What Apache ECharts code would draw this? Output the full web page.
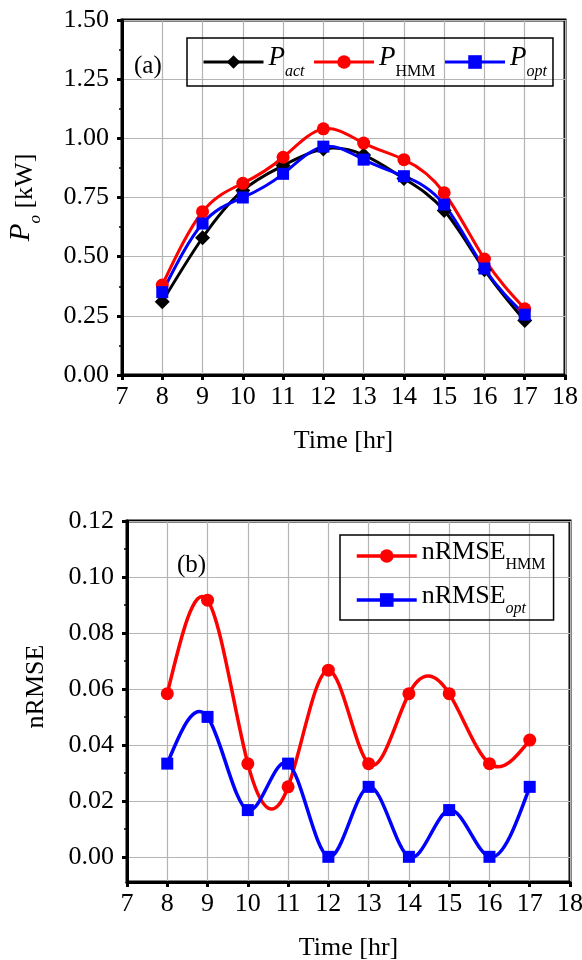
<!DOCTYPE html>
<html>
<head>
<meta charset="utf-8">
<script src="https://cdn.jsdelivr.net/npm/echarts@6/dist/echarts.min.js"></script>
<style>
html,body{margin:0;padding:0;background:#fff;}
#c{width:582px;height:960px;}
</style>
</head>
<body>
<div id="c"></div>
<script>
// ---- data ----
const hours = [8, 9, 10, 11, 12, 13, 14, 15, 16, 17];
const pAct = [0.31, 0.58, 0.78, 0.885, 0.955, 0.93, 0.83, 0.695, 0.445, 0.23];
const pHMM = [0.38, 0.69, 0.81, 0.92, 1.04, 0.98, 0.91, 0.77, 0.49, 0.28];
const pOpt = [0.35, 0.64, 0.75, 0.85, 0.965, 0.91, 0.84, 0.72, 0.45, 0.255];
const nrmseHMM = [0.0583, 0.0917, 0.0333, 0.025, 0.0667, 0.0333, 0.0583, 0.0583, 0.0333, 0.0417];
const nrmseOpt = [0.0333, 0.05, 0.0167, 0.0333, 0, 0.025, 0, 0.0167, 0, 0.025];
const xTicks = [7, 8, 9, 10, 11, 12, 13, 14, 15, 16, 17, 18];
const yTicksTop = [0, 0.25, 0.5, 0.75, 1.0, 1.25, 1.5];
const yTicksBottom = [0, 0.02, 0.04, 0.06, 0.08, 0.10, 0.12];
const yMinorBottom = [0.01, 0.03, 0.05, 0.07, 0.09, 0.11];

const FONT = '"Liberation Serif", "Times New Roman", serif';
const pairs = (ys) => hours.map((h, i) => [h, ys[i]]);

// natural cubic spline -> bezier control points (in data space)
function splineSegments(xs, ys) {
  const n = xs.length;
  const h = [];
  for (let i = 0; i < n - 1; i++) h.push(xs[i + 1] - xs[i]);
  const M = new Array(n).fill(0);
  if (n > 2) {
    const a = [], b = [], c = [], d = [];
    for (let i = 1; i < n - 1; i++) {
      a.push(h[i - 1]); b.push(2 * (h[i - 1] + h[i])); c.push(h[i]);
      d.push(6 * ((ys[i + 1] - ys[i]) / h[i] - (ys[i] - ys[i - 1]) / h[i - 1]));
    }
    const m = b.length;
    for (let i = 1; i < m; i++) {
      const w = a[i] / b[i - 1];
      b[i] -= w * c[i - 1];
      d[i] -= w * d[i - 1];
    }
    const sol = new Array(m);
    sol[m - 1] = d[m - 1] / b[m - 1];
    for (let i = m - 2; i >= 0; i--) sol[i] = (d[i] - c[i] * sol[i + 1]) / b[i];
    for (let i = 0; i < m; i++) M[i + 1] = sol[i];
  }
  const segs = [];
  for (let i = 0; i < n - 1; i++) {
    const hi = h[i];
    const s = (ys[i + 1] - ys[i]) / hi;
    const d0 = s - hi * (2 * M[i] + M[i + 1]) / 6;
    const d1 = s + hi * (M[i] + 2 * M[i + 1]) / 6;
    segs.push([
      [xs[i], ys[i]],
      [xs[i] + hi / 3, ys[i] + d0 * hi / 3],
      [xs[i + 1] - hi / 3, ys[i + 1] - d1 * hi / 3],
      [xs[i + 1], ys[i + 1]]
    ]);
  }
  return segs;
}

function curveSeries(ys, color, width, xi, yi) {
  const segs = splineSegments(hours, ys);
  return {
    type: 'custom', xAxisIndex: xi, yAxisIndex: yi, silent: true,
    data: pairs(ys), encode: {x: 0, y: 1},
    renderItem: function (params, api) {
      const seg = segs[params.dataIndex];
      if (!seg) return {type: 'group', children: []};
      const p = seg.map(pt => api.coord(pt));
      return {
        type: 'bezierCurve',
        shape: {x1: p[0][0], y1: p[0][1], cpx1: p[1][0], cpy1: p[1][1], cpx2: p[2][0], cpy2: p[2][1], x2: p[3][0], y2: p[3][1]},
        style: {stroke: color, lineWidth: width, fill: null, lineCap: 'round'}
      };
    }
  };
}

function symbolSeries(name, ys, symbol, size, color, xi, yi) {
  return {
    name: name, type: 'line', xAxisIndex: xi, yAxisIndex: yi, data: pairs(ys),
    symbol: symbol, symbolSize: size,
    lineStyle: {color: color, width: 3, opacity: 0},
    itemStyle: {color: color}
  };
}

const chart = echarts.init(document.getElementById('c'), null, {renderer: 'canvas'});

const axisCommon = {
  axisLine: {show: true, onZero: false, lineStyle: {color: '#000', width: 3}},
  axisTick: {show: true, inside: false, length: 5, lineStyle: {color: '#000', width: 3}},
  minorTick: {show: false},
  splitLine: {show: true, lineStyle: {color: '#b4b4b4', width: 1.2}},
  axisLabel: {color: '#000', fontFamily: FONT, fontSize: 26},
  nameTextStyle: {color: '#000', fontFamily: FONT, fontSize: 26}
};

function xAxis(gridIndex) {
  return Object.assign({}, axisCommon, {
    type: 'value', gridIndex: gridIndex, min: 7, max: 18, interval: 1,
    name: 'Time [hr]', nameLocation: 'middle', nameGap: 53,
    axisLabel: Object.assign({}, axisCommon.axisLabel, {margin: 9})
  });
}

const legendRich = {
  P: {fontFamily: FONT, fontSize: 27, fontStyle: 'italic', color: '#000', verticalAlign: 'bottom', padding: [0, 0, 9, 0]},
  si: {fontFamily: FONT, fontSize: 16, fontStyle: 'italic', color: '#000', verticalAlign: 'bottom'},
  su: {fontFamily: FONT, fontSize: 16, color: '#000', verticalAlign: 'bottom'},
  N: {fontFamily: FONT, fontSize: 26, color: '#000', verticalAlign: 'bottom', padding: [0, 0, 8, 0]}
};

const option = {
  animation: false,
  backgroundColor: '#fff',
  title: [
    {text: '(a)', left: 129, top: 49, textStyle: {fontFamily: FONT, fontSize: 25, fontWeight: 'normal', color: '#000'}},
    {text: '(b)', left: 172, top: 548, textStyle: {fontFamily: FONT, fontSize: 25, fontWeight: 'normal', color: '#000'}}
  ],
  grid: [
    {left: 122, top: 20, width: 443, height: 355, show: true, borderColor: '#000', borderWidth: 3, backgroundColor: 'transparent', outerBoundsMode: 'none', containLabel: false},
    {left: 127, top: 521, width: 443, height: 361, show: true, borderColor: '#000', borderWidth: 3, backgroundColor: 'transparent', outerBoundsMode: 'none', containLabel: false}
  ],
  xAxis: [xAxis(0), xAxis(1)],
  yAxis: [
    Object.assign({}, axisCommon, {
      type: 'value', gridIndex: 0, min: 0, max: 1.5, interval: 0.25,
      name: '{i|P}{s|o} [kW]', nameLocation: 'middle', nameGap: 78,
      minorTick: {show: true, splitNumber: 2, length: 3, lineStyle: {color: '#000', width: 1.5}},
      nameTextStyle: Object.assign({}, axisCommon.nameTextStyle, {
        rich: {
          i: {fontFamily: FONT, fontSize: 29, fontStyle: 'italic', color: '#000', verticalAlign: 'bottom', padding: [0, 0, 8, 0]},
          s: {fontFamily: FONT, fontSize: 17, fontStyle: 'italic', color: '#000', verticalAlign: 'bottom'}
        }
      }),
      axisLabel: Object.assign({}, axisCommon.axisLabel, {margin: 13, formatter: v => v.toFixed(2)})
    }),
    Object.assign({}, axisCommon, {
      type: 'value', gridIndex: 1, min: -0.009, max: 0.12,
      name: 'nRMSE', nameLocation: 'middle', nameGap: 78,
      nameTextStyle: Object.assign({}, axisCommon.nameTextStyle, {padding: [0, 0, 0, 30]}),
      axisTick: Object.assign({}, axisCommon.axisTick, {customValues: yTicksBottom}),
      axisLabel: Object.assign({}, axisCommon.axisLabel, {margin: 13, customValues: yTicksBottom, formatter: v => v.toFixed(2)})
    }),
    {
      type: 'value', gridIndex: 1, min: -0.009, max: 0.12, position: 'left',
      axisLine: {show: false}, splitLine: {show: false}, axisLabel: {show: false},
      axisTick: {show: true, length: 3, customValues: yMinorBottom, lineStyle: {color: '#000', width: 1.5}}
    }
  ],
  legend: [
    {
      left: 187, top: 38, orient: 'horizontal',
      data: [
        {name: 'act', lineStyle: {color: '#000', width: 3, opacity: 1}},
        {name: 'HMM', lineStyle: {color: '#ff0000', width: 3, opacity: 1}},
        {name: 'opt', lineStyle: {color: '#0000ff', width: 3, opacity: 1}}
      ],
      borderColor: '#000', borderWidth: 1.5, padding: [6, 6, 6, 15],
      itemWidth: 60, itemHeight: 17, itemGap: 8,
      textStyle: {rich: legendRich},
      formatter: n => n === 'HMM' ? '{P|P}{su|HMM}' : '{P|P}{si|' + n + '}'
    },
    {
      left: 340, top: 535, orient: 'vertical',
      data: [
        {name: 'nHMM', lineStyle: {color: '#ff0000', width: 3.5, opacity: 1}},
        {name: 'nopt', lineStyle: {color: '#0000ff', width: 3.5, opacity: 1}}
      ],
      borderColor: '#000', borderWidth: 1.5, padding: [4, 8, 3, 15],
      itemWidth: 60, itemHeight: 17, itemGap: 10,
      textStyle: {rich: legendRich},
      formatter: n => n === 'nHMM' ? '{N|nRMSE}{su|HMM}' : '{N|nRMSE}{si|opt}'
    }
  ],
  series: [
    curveSeries(pAct, '#000', 3, 0, 0),
    symbolSeries('act', pAct, 'diamond', 15, '#000', 0, 0),
    curveSeries(pHMM, '#ff0000', 3, 0, 0),
    symbolSeries('HMM', pHMM, 'circle', 13, '#ff0000', 0, 0),
    curveSeries(pOpt, '#0000ff', 3, 0, 0),
    symbolSeries('opt', pOpt, 'rect', 12, '#0000ff', 0, 0),
    curveSeries(nrmseHMM, '#ff0000', 3.5, 1, 1),
    symbolSeries('nHMM', nrmseHMM, 'circle', 13, '#ff0000', 1, 1),
    curveSeries(nrmseOpt, '#0000ff', 3.5, 1, 1),
    symbolSeries('nopt', nrmseOpt, 'rect', 12, '#0000ff', 1, 1)
  ]
};
chart.setOption(option);
</script>
</body>
</html>
